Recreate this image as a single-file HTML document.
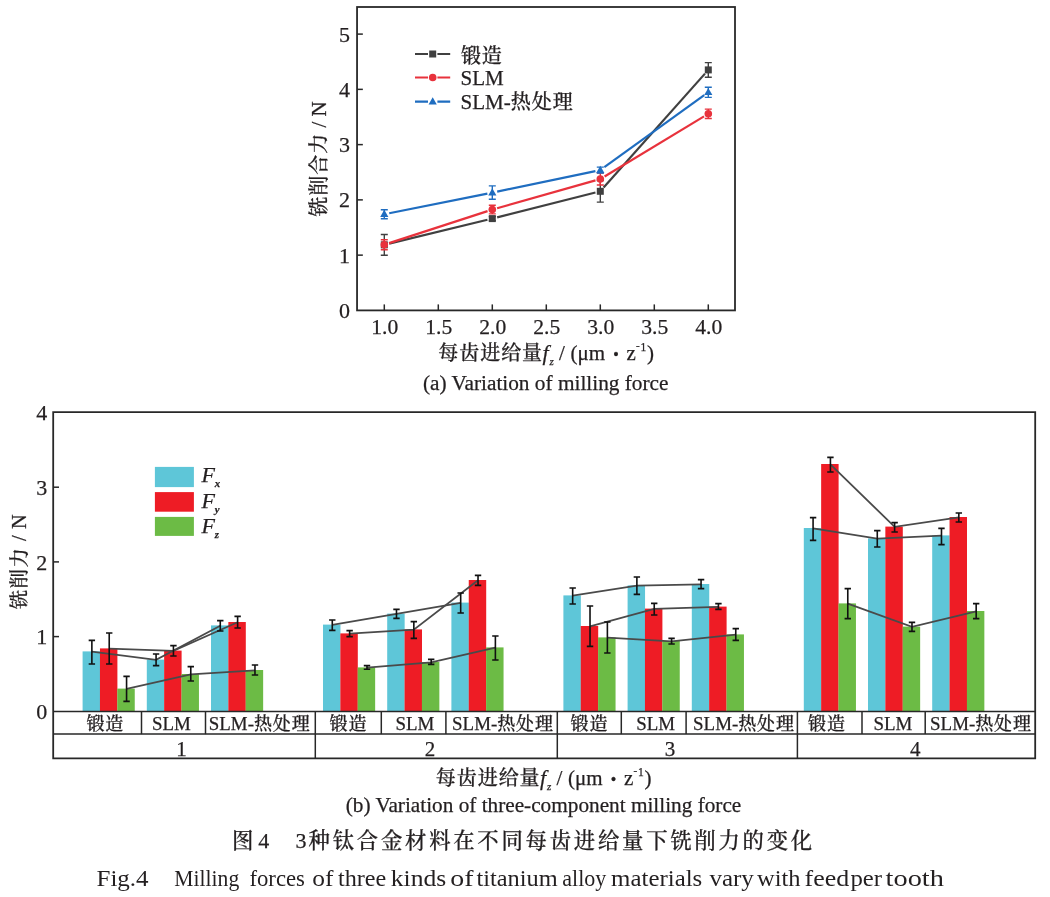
<!DOCTYPE html>
<html lang="zh"><head><meta charset="utf-8"><title>Fig.4</title>
<style>html,body{margin:0;padding:0;background:#fff}svg{display:block}text{font-family:"Liberation Serif","Noto Serif CJK SC",serif;fill:#231f20;font-weight:500;stroke:#231f20;stroke-width:.25px}.ax{stroke:#282828;stroke-width:1.8;fill:none}.tk{stroke:#282828;stroke-width:1.5;fill:none}.eb{stroke:#111;stroke-width:1.6;fill:none}.ln{stroke:#4a4a4a;stroke-width:1.8;fill:none}.c2 text{stroke:none}</style></head><body>
<svg width="1050" height="897" viewBox="0 0 1050 897">
<rect width="1050" height="897" fill="#fff"/>
<g id="top">
<line x1="389.16" y1="243.67" x2="487.44" y2="219.78" stroke="#404040" stroke-width="2.2"/>
<line x1="497.15" y1="217.37" x2="595.45" y2="192.53" stroke="#404040" stroke-width="2.2"/>
<line x1="603.62" y1="187.56" x2="704.98" y2="73.64" stroke="#404040" stroke-width="2.2"/>
<path d="M384.30 234.45V255.25M380.80 234.45h7M380.80 255.25h7" stroke="#404040" stroke-width="1.4" fill="none"/>
<rect x="380.80" y="241.35" width="7" height="7" fill="#404040"/>
<path d="M492.30 216.60V220.60M488.80 216.60h7M488.80 220.60h7" stroke="#404040" stroke-width="1.4" fill="none"/>
<rect x="488.80" y="215.10" width="7" height="7" fill="#404040"/>
<path d="M600.30 180.50V202.10M596.80 180.50h7M596.80 202.10h7" stroke="#404040" stroke-width="1.4" fill="none"/>
<rect x="596.80" y="187.80" width="7" height="7" fill="#404040"/>
<path d="M708.30 62.60V77.20M704.80 62.60h7M704.80 77.20h7" stroke="#404040" stroke-width="1.4" fill="none"/>
<rect x="704.80" y="66.40" width="7" height="7" fill="#404040"/>
<line x1="389.06" y1="243.15" x2="487.54" y2="211.15" stroke="#e8323c" stroke-width="2.2"/>
<line x1="497.11" y1="208.24" x2="595.49" y2="180.41" stroke="#e8323c" stroke-width="2.2"/>
<line x1="604.58" y1="176.46" x2="704.02" y2="116.39" stroke="#e8323c" stroke-width="2.2"/>
<path d="M384.30 239.70V249.70M380.80 239.70h7M380.80 249.70h7" stroke="#e8323c" stroke-width="1.4" fill="none"/>
<circle cx="384.30" cy="244.70" r="3.8" fill="#e8323c"/>
<path d="M492.30 205.30V213.90M488.80 205.30h7M488.80 213.90h7" stroke="#e8323c" stroke-width="1.4" fill="none"/>
<circle cx="492.30" cy="209.60" r="3.8" fill="#e8323c"/>
<path d="M600.30 173.05V185.05M596.80 173.05h7M596.80 185.05h7" stroke="#e8323c" stroke-width="1.4" fill="none"/>
<circle cx="600.30" cy="179.05" r="3.8" fill="#e8323c"/>
<path d="M708.30 109.10V118.50M704.80 109.10h7M704.80 118.50h7" stroke="#e8323c" stroke-width="1.4" fill="none"/>
<circle cx="708.30" cy="113.80" r="3.8" fill="#e8323c"/>
<line x1="389.20" y1="213.22" x2="487.40" y2="193.58" stroke="#1f6dc0" stroke-width="2.2"/>
<line x1="497.19" y1="191.58" x2="595.41" y2="171.12" stroke="#1f6dc0" stroke-width="2.2"/>
<line x1="604.36" y1="167.18" x2="704.24" y2="95.22" stroke="#1f6dc0" stroke-width="2.2"/>
<path d="M384.30 209.70V218.70M380.80 209.70h7M380.80 218.70h7" stroke="#1f6dc0" stroke-width="1.4" fill="none"/>
<path d="M384.30 209.80L388.40 217.00L380.20 217.00Z" fill="#1f6dc0"/>
<path d="M492.30 185.90V199.30M488.80 185.90h7M488.80 199.30h7" stroke="#1f6dc0" stroke-width="1.4" fill="none"/>
<path d="M492.30 188.20L496.40 195.40L488.20 195.40Z" fill="#1f6dc0"/>
<path d="M600.30 167.10V173.10M596.80 167.10h7M596.80 173.10h7" stroke="#1f6dc0" stroke-width="1.4" fill="none"/>
<path d="M600.30 165.70L604.40 172.90L596.20 172.90Z" fill="#1f6dc0"/>
<path d="M708.30 87.20V97.40M704.80 87.20h7M704.80 97.40h7" stroke="#1f6dc0" stroke-width="1.4" fill="none"/>
<path d="M708.30 87.90L712.40 95.10L704.20 95.10Z" fill="#1f6dc0"/>
<rect class="ax" x="357.05" y="7.00" width="377.95" height="303.40"/>
<line class="tk" x1="357.05" y1="255.14" x2="362.85" y2="255.14"/>
<line class="tk" x1="357.05" y1="199.88" x2="362.85" y2="199.88"/>
<line class="tk" x1="357.05" y1="144.62" x2="362.85" y2="144.62"/>
<line class="tk" x1="357.05" y1="89.36" x2="362.85" y2="89.36"/>
<line class="tk" x1="357.05" y1="34.10" x2="362.85" y2="34.10"/>
<line class="tk" x1="384.30" y1="310.40" x2="384.30" y2="304.40"/>
<line class="tk" x1="438.30" y1="310.40" x2="438.30" y2="304.40"/>
<line class="tk" x1="492.30" y1="310.40" x2="492.30" y2="304.40"/>
<line class="tk" x1="546.30" y1="310.40" x2="546.30" y2="304.40"/>
<line class="tk" x1="600.30" y1="310.40" x2="600.30" y2="304.40"/>
<line class="tk" x1="654.30" y1="310.40" x2="654.30" y2="304.40"/>
<line class="tk" x1="708.30" y1="310.40" x2="708.30" y2="304.40"/>
<text x="350" y="318.00" font-size="22" text-anchor="end">0</text>
<text x="350" y="262.74" font-size="22" text-anchor="end">1</text>
<text x="350" y="207.48" font-size="22" text-anchor="end">2</text>
<text x="350" y="152.22" font-size="22" text-anchor="end">3</text>
<text x="350" y="96.96" font-size="22" text-anchor="end">4</text>
<text x="350" y="41.70" font-size="22" text-anchor="end">5</text>
<text x="384.70" y="333.8" font-size="21.6" text-anchor="middle">1.0</text>
<text x="438.70" y="333.8" font-size="21.6" text-anchor="middle">1.5</text>
<text x="492.70" y="333.8" font-size="21.6" text-anchor="middle">2.0</text>
<text x="546.70" y="333.8" font-size="21.6" text-anchor="middle">2.5</text>
<text x="600.70" y="333.8" font-size="21.6" text-anchor="middle">3.0</text>
<text x="654.70" y="333.8" font-size="21.6" text-anchor="middle">3.5</text>
<text x="708.70" y="333.8" font-size="21.6" text-anchor="middle">4.0</text>
<path d="M415 54.00H428M437.4 54.00H450.2" stroke="#404040" stroke-width="2.2"/>
<rect x="429.20" y="50.50" width="7" height="7" fill="#404040"/>
<path d="M415 77.50H428M437.4 77.50H450.2" stroke="#e8323c" stroke-width="2.2"/>
<circle cx="432.70" cy="77.50" r="3.8" fill="#e8323c"/>
<path d="M415 101.60H428M437.4 101.60H450.2" stroke="#1f6dc0" stroke-width="2.2"/>
<path d="M432.70 97.20L436.80 104.40L428.60 104.40Z" fill="#1f6dc0"/>
<text x="460.9" y="62.9" font-size="21"><tspan font-size="20.05" letter-spacing="0.95">锻造</tspan></text>
<text x="460.5" y="84.7" font-size="21">SLM</text>
<text x="460.5" y="108.6" font-size="21">SLM-<tspan font-size="20.05" letter-spacing="0.95">热处理</tspan></text>
<text transform="translate(325.5 216.8) rotate(-90)" font-size="21"><tspan font-size="20.05" letter-spacing="0.95">铣削合力</tspan> / N</text>
<text y="360.30" font-size="21"><tspan x="438.20"><tspan font-size="20.05" letter-spacing="0.95">每齿进给量</tspan></tspan><tspan x="542.40" font-style="italic" font-size="22">f</tspan><tspan x="549.50" font-size="11" font-style="italic" dy="4.8">z</tspan><tspan x="559.10" dy="-4.8">/</tspan><tspan x="570.50">(μm</tspan><tspan x="610.50" font-size="33" dy="5">·</tspan><tspan x="626.60" dy="-5">z</tspan><tspan x="636.00" font-size="11" dy="-11.2">-</tspan><tspan x="640.40" font-size="11.5" dy="1.9">1</tspan><tspan x="646.90" dy="9.3">)</tspan></text>
<text x="545.7" y="390.3" font-size="21.3" text-anchor="middle">(a) Variation of milling force</text>
</g>
<g id="bot">
<rect x="82.60" y="651.40" width="17.45" height="60.10" fill="#5ec6d8"/>
<rect x="99.95" y="648.40" width="17.45" height="63.10" fill="#ee1c25"/>
<rect x="117.30" y="688.60" width="17.45" height="22.90" fill="#6cbb45"/>
<rect x="146.80" y="659.60" width="17.45" height="51.90" fill="#5ec6d8"/>
<rect x="164.15" y="650.60" width="17.45" height="60.90" fill="#ee1c25"/>
<rect x="181.50" y="674.00" width="17.45" height="37.50" fill="#6cbb45"/>
<rect x="211.00" y="625.40" width="17.45" height="86.10" fill="#5ec6d8"/>
<rect x="228.35" y="622.00" width="17.45" height="89.50" fill="#ee1c25"/>
<rect x="245.70" y="670.00" width="17.45" height="41.50" fill="#6cbb45"/>
<rect x="323.00" y="624.60" width="17.45" height="86.90" fill="#5ec6d8"/>
<rect x="340.35" y="633.40" width="17.45" height="78.10" fill="#ee1c25"/>
<rect x="357.70" y="667.40" width="17.45" height="44.10" fill="#6cbb45"/>
<rect x="387.20" y="613.60" width="17.45" height="97.90" fill="#5ec6d8"/>
<rect x="404.55" y="629.40" width="17.45" height="82.10" fill="#ee1c25"/>
<rect x="421.90" y="662.00" width="17.45" height="49.50" fill="#6cbb45"/>
<rect x="451.40" y="602.60" width="17.45" height="108.90" fill="#5ec6d8"/>
<rect x="468.75" y="580.00" width="17.45" height="131.50" fill="#ee1c25"/>
<rect x="486.10" y="647.40" width="17.45" height="64.10" fill="#6cbb45"/>
<rect x="563.40" y="595.40" width="17.45" height="116.10" fill="#5ec6d8"/>
<rect x="580.75" y="626.00" width="17.45" height="85.50" fill="#ee1c25"/>
<rect x="598.10" y="637.40" width="17.45" height="74.10" fill="#6cbb45"/>
<rect x="627.60" y="585.40" width="17.45" height="126.10" fill="#5ec6d8"/>
<rect x="644.95" y="608.60" width="17.45" height="102.90" fill="#ee1c25"/>
<rect x="662.30" y="641.00" width="17.45" height="70.50" fill="#6cbb45"/>
<rect x="691.80" y="584.00" width="17.45" height="127.50" fill="#5ec6d8"/>
<rect x="709.15" y="606.60" width="17.45" height="104.90" fill="#ee1c25"/>
<rect x="726.50" y="634.40" width="17.45" height="77.10" fill="#6cbb45"/>
<rect x="803.80" y="528.00" width="17.45" height="183.50" fill="#5ec6d8"/>
<rect x="821.15" y="464.00" width="17.45" height="247.50" fill="#ee1c25"/>
<rect x="838.50" y="603.40" width="17.45" height="108.10" fill="#6cbb45"/>
<rect x="868.00" y="538.40" width="17.45" height="173.10" fill="#5ec6d8"/>
<rect x="885.35" y="526.60" width="17.45" height="184.90" fill="#ee1c25"/>
<rect x="902.70" y="626.60" width="17.45" height="84.90" fill="#6cbb45"/>
<rect x="932.20" y="535.40" width="17.45" height="176.10" fill="#5ec6d8"/>
<rect x="949.55" y="517.00" width="17.45" height="194.50" fill="#ee1c25"/>
<rect x="966.90" y="611.00" width="17.45" height="100.50" fill="#6cbb45"/>
<polyline class="ln" points="91.87,651.70 156.08,659.90 220.28,625.70"/>
<polyline class="ln" points="109.22,648.70 173.43,650.90 237.62,622.30"/>
<polyline class="ln" points="126.57,688.90 190.78,674.30 254.97,670.30"/>
<polyline class="ln" points="332.28,624.90 396.48,613.90 460.68,602.90"/>
<polyline class="ln" points="349.63,633.70 413.83,629.70 478.03,580.30"/>
<polyline class="ln" points="366.98,667.70 431.18,662.30 495.38,647.70"/>
<polyline class="ln" points="572.67,595.70 636.88,585.70 701.07,584.30"/>
<polyline class="ln" points="590.02,626.30 654.23,608.90 718.42,606.90"/>
<polyline class="ln" points="607.38,637.70 671.58,641.30 735.77,634.70"/>
<polyline class="ln" points="813.08,528.30 877.28,538.70 941.48,535.70"/>
<polyline class="ln" points="830.43,464.30 894.63,526.90 958.83,517.30"/>
<polyline class="ln" points="847.78,603.70 911.98,626.90 976.18,611.30"/>
<path class="eb" d="M91.87 640.40V664.00M88.67 640.40h6.4M88.67 664.00h6.4"/>
<path class="eb" d="M109.22 633.00V664.00M106.02 633.00h6.4M106.02 664.00h6.4"/>
<path class="eb" d="M126.57 676.40V701.40M123.37 676.40h6.4M123.37 701.40h6.4"/>
<path class="eb" d="M156.08 654.00V665.60M152.88 654.00h6.4M152.88 665.60h6.4"/>
<path class="eb" d="M173.43 645.60V656.00M170.23 645.60h6.4M170.23 656.00h6.4"/>
<path class="eb" d="M190.78 666.60V681.00M187.58 666.60h6.4M187.58 681.00h6.4"/>
<path class="eb" d="M220.28 620.60V631.00M217.08 620.60h6.4M217.08 631.00h6.4"/>
<path class="eb" d="M237.62 616.40V628.00M234.43 616.40h6.4M234.43 628.00h6.4"/>
<path class="eb" d="M254.97 665.00V675.00M251.78 665.00h6.4M251.78 675.00h6.4"/>
<path class="eb" d="M332.28 620.00V630.40M329.08 620.00h6.4M329.08 630.40h6.4"/>
<path class="eb" d="M349.63 630.60V636.60M346.43 630.60h6.4M346.43 636.60h6.4"/>
<path class="eb" d="M366.98 665.60V669.20M363.78 665.60h6.4M363.78 669.20h6.4"/>
<path class="eb" d="M396.48 609.40V618.40M393.28 609.40h6.4M393.28 618.40h6.4"/>
<path class="eb" d="M413.83 621.60V638.40M410.63 621.60h6.4M410.63 638.40h6.4"/>
<path class="eb" d="M431.18 659.40V664.40M427.98 659.40h6.4M427.98 664.40h6.4"/>
<path class="eb" d="M460.68 593.00V613.00M457.48 593.00h6.4M457.48 613.00h6.4"/>
<path class="eb" d="M478.03 575.40V585.40M474.83 575.40h6.4M474.83 585.40h6.4"/>
<path class="eb" d="M495.38 636.00V660.00M492.18 636.00h6.4M492.18 660.00h6.4"/>
<path class="eb" d="M572.67 588.00V604.00M569.47 588.00h6.4M569.47 604.00h6.4"/>
<path class="eb" d="M590.02 606.00V646.40M586.82 606.00h6.4M586.82 646.40h6.4"/>
<path class="eb" d="M607.38 622.00V653.00M604.17 622.00h6.4M604.17 653.00h6.4"/>
<path class="eb" d="M636.88 577.00V594.40M633.67 577.00h6.4M633.67 594.40h6.4"/>
<path class="eb" d="M654.23 603.40V615.00M651.02 603.40h6.4M651.02 615.00h6.4"/>
<path class="eb" d="M671.58 638.40V644.00M668.38 638.40h6.4M668.38 644.00h6.4"/>
<path class="eb" d="M701.07 579.60V588.60M697.87 579.60h6.4M697.87 588.60h6.4"/>
<path class="eb" d="M718.42 603.60V609.40M715.22 603.60h6.4M715.22 609.40h6.4"/>
<path class="eb" d="M735.77 628.60V640.40M732.57 628.60h6.4M732.57 640.40h6.4"/>
<path class="eb" d="M813.08 517.60V540.40M809.88 517.60h6.4M809.88 540.40h6.4"/>
<path class="eb" d="M830.43 457.40V472.00M827.23 457.40h6.4M827.23 472.00h6.4"/>
<path class="eb" d="M847.78 588.60V618.60M844.58 588.60h6.4M844.58 618.60h6.4"/>
<path class="eb" d="M877.28 530.60V547.00M874.08 530.60h6.4M874.08 547.00h6.4"/>
<path class="eb" d="M894.63 522.60V532.00M891.43 522.60h6.4M891.43 532.00h6.4"/>
<path class="eb" d="M911.98 622.40V631.40M908.78 622.40h6.4M908.78 631.40h6.4"/>
<path class="eb" d="M941.48 528.40V544.60M938.27 528.40h6.4M938.27 544.60h6.4"/>
<path class="eb" d="M958.83 513.00V522.00M955.62 513.00h6.4M955.62 522.00h6.4"/>
<path class="eb" d="M976.18 603.60V618.60M972.98 603.60h6.4M972.98 618.60h6.4"/>
<path class="ax" d="M53.20 412.20H1035.20V758.30H53.20Z"/>
<path class="tk" d="M53.20 711.50H1035.20M53.20 734.10H1035.20"/>
<line class="tk" x1="315.30" y1="711.50" x2="315.30" y2="758.30"/>
<line class="tk" x1="557.30" y1="711.50" x2="557.30" y2="758.30"/>
<line class="tk" x1="797.40" y1="711.50" x2="797.40" y2="758.30"/>
<line class="tk" x1="141.50" y1="711.50" x2="141.50" y2="734.10"/>
<line class="tk" x1="205.50" y1="711.50" x2="205.50" y2="734.10"/>
<line class="tk" x1="381.30" y1="711.50" x2="381.30" y2="734.10"/>
<line class="tk" x1="445.90" y1="711.50" x2="445.90" y2="734.10"/>
<line class="tk" x1="621.30" y1="711.50" x2="621.30" y2="734.10"/>
<line class="tk" x1="686.10" y1="711.50" x2="686.10" y2="734.10"/>
<line class="tk" x1="862.00" y1="711.50" x2="862.00" y2="734.10"/>
<line class="tk" x1="925.20" y1="711.50" x2="925.20" y2="734.10"/>
<line class="tk" x1="53.20" y1="636.60" x2="59.00" y2="636.60"/>
<line class="tk" x1="53.20" y1="561.90" x2="59.00" y2="561.90"/>
<line class="tk" x1="53.20" y1="487.20" x2="59.00" y2="487.20"/>
<text x="47.2" y="718.90" font-size="22" text-anchor="end">0</text>
<text x="47.2" y="644.20" font-size="22" text-anchor="end">1</text>
<text x="47.2" y="569.50" font-size="22" text-anchor="end">2</text>
<text x="47.2" y="494.80" font-size="22" text-anchor="end">3</text>
<text x="47.2" y="420.10" font-size="22" text-anchor="end">4</text>
<text x="105.3" y="729.8" font-size="18.9" text-anchor="middle"><tspan font-size="18.05" letter-spacing="0.85">锻造</tspan></text>
<text x="171.3" y="730" font-size="18.9" text-anchor="middle">SLM</text>
<text x="259.7" y="729.8" font-size="18.9" text-anchor="middle">SLM-<tspan font-size="18.05" letter-spacing="0.85">热处理</tspan></text>
<text x="181.5" y="755.5" font-size="21" text-anchor="middle">1</text>
<text x="348.4" y="729.8" font-size="18.9" text-anchor="middle"><tspan font-size="18.05" letter-spacing="0.85">锻造</tspan></text>
<text x="414.9" y="730" font-size="18.9" text-anchor="middle">SLM</text>
<text x="503.0" y="729.8" font-size="18.9" text-anchor="middle">SLM-<tspan font-size="18.05" letter-spacing="0.85">热处理</tspan></text>
<text x="430.1" y="755.5" font-size="21" text-anchor="middle">2</text>
<text x="589.5" y="729.8" font-size="18.9" text-anchor="middle"><tspan font-size="18.05" letter-spacing="0.85">锻造</tspan></text>
<text x="655.7" y="730" font-size="18.9" text-anchor="middle">SLM</text>
<text x="744.0" y="729.8" font-size="18.9" text-anchor="middle">SLM-<tspan font-size="18.05" letter-spacing="0.85">热处理</tspan></text>
<text x="670.1" y="755.5" font-size="21" text-anchor="middle">3</text>
<text x="827.0" y="729.8" font-size="18.9" text-anchor="middle"><tspan font-size="18.05" letter-spacing="0.85">锻造</tspan></text>
<text x="892.9" y="730" font-size="18.9" text-anchor="middle">SLM</text>
<text x="981.0" y="729.8" font-size="18.9" text-anchor="middle">SLM-<tspan font-size="18.05" letter-spacing="0.85">热处理</tspan></text>
<text x="915.3" y="755.5" font-size="21" text-anchor="middle">4</text>
<rect x="154.9" y="466.9" width="39" height="20.2" fill="#5ec6d8"/>
<rect x="154.9" y="492.1" width="39" height="19.6" fill="#ee1c25"/>
<rect x="154.9" y="516.9" width="39" height="19.0" fill="#6cbb45"/>
<text x="201.5" y="482.0" font-size="22" font-style="italic">F<tspan font-size="10.8" dy="5" dx="-0.2" font-weight="bold">x</tspan></text>
<text x="201.5" y="508.3" font-size="22" font-style="italic">F<tspan font-size="10.8" dy="5" dx="-0.2" font-weight="bold">y</tspan></text>
<text x="201.5" y="532.9" font-size="22" font-style="italic">F<tspan font-size="10.8" dy="5" dx="-0.2" font-weight="bold">z</tspan></text>
<text transform="translate(25.6 609.3) rotate(-90)" font-size="20.3" letter-spacing="0.6"><tspan font-size="19.39" letter-spacing="1.5">铣削力</tspan> / N</text>
<text y="784.80" font-size="21"><tspan x="435.70"><tspan font-size="20.05" letter-spacing="0.95">每齿进给量</tspan></tspan><tspan x="539.90" font-style="italic" font-size="22">f</tspan><tspan x="547.00" font-size="11" font-style="italic" dy="4.8">z</tspan><tspan x="556.60" dy="-4.8">/</tspan><tspan x="568.00">(μm</tspan><tspan x="608.00" font-size="33" dy="5">·</tspan><tspan x="624.10" dy="-5">z</tspan><tspan x="633.50" font-size="11" dy="-11.2">-</tspan><tspan x="637.90" font-size="11.5" dy="1.9">1</tspan><tspan x="644.40" dy="9.3">)</tspan></text>
<text x="543.5" y="812.3" font-size="21.25" text-anchor="middle">(b) Variation of three-component milling force</text>
</g>
<text y="847.8" font-size="21"><tspan x="231.9" font-size="21.4">图</tspan><tspan x="258.2" font-size="22">4</tspan><tspan x="295.6" font-size="22">3</tspan><tspan x="308.6" letter-spacing="2.72" font-size="21.4">种钛合金材料在不同每齿进给量下铣削力的变化</tspan></text>
<g font-size="22.5" class="c2">
<text x="96.5" y="885.8" textLength="52.1" lengthAdjust="spacingAndGlyphs">Fig.4</text>
<text x="174.3" y="885.8" textLength="64.9" lengthAdjust="spacingAndGlyphs">Milling</text>
<text x="249.4" y="885.8" textLength="55.5" lengthAdjust="spacingAndGlyphs">forces</text>
<text x="312.3" y="885.8" textLength="21.2" lengthAdjust="spacingAndGlyphs">of</text>
<text x="338.0" y="885.8" textLength="48.3" lengthAdjust="spacingAndGlyphs">three</text>
<text x="390.8" y="885.8" textLength="55.5" lengthAdjust="spacingAndGlyphs">kinds</text>
<text x="450.3" y="885.8" textLength="23.2" lengthAdjust="spacingAndGlyphs">of</text>
<text x="476.5" y="885.8" textLength="81.2" lengthAdjust="spacingAndGlyphs">titanium</text>
<text x="562.3" y="885.8" textLength="44.0" lengthAdjust="spacingAndGlyphs">alloy</text>
<text x="611.1" y="885.8" textLength="91.2" lengthAdjust="spacingAndGlyphs">materials</text>
<text x="709.4" y="885.8" textLength="44.5" lengthAdjust="spacingAndGlyphs">vary</text>
<text x="757.0" y="885.8" textLength="43.5" lengthAdjust="spacingAndGlyphs">with</text>
<text x="804.6" y="885.8" textLength="44.6" lengthAdjust="spacingAndGlyphs">feed</text>
<text x="850.4" y="885.8" textLength="31.6" lengthAdjust="spacingAndGlyphs">per</text>
<text x="885.6" y="885.8" textLength="58.3" lengthAdjust="spacingAndGlyphs">tooth</text>
</g>
</svg></body></html>
